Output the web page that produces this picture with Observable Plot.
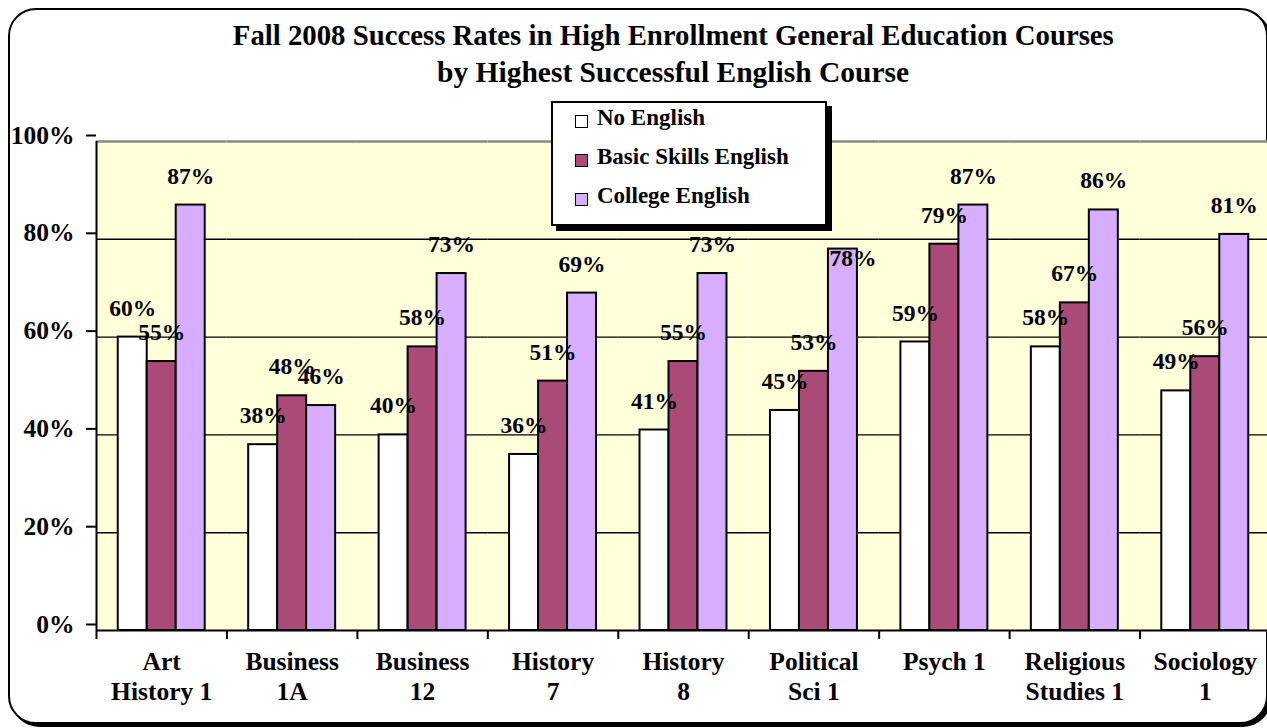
<!DOCTYPE html>
<html>
<head>
<meta charset="utf-8">
<script src="https://cdn.jsdelivr.net/npm/d3@7"></script>
<script src="https://cdn.jsdelivr.net/npm/@observablehq/plot@0.6"></script>
<style>
  html, body { margin: 0; padding: 0; background: #fff; }
  #page { position: relative; width: 1267px; height: 728px; overflow: hidden; font-family: "Liberation Serif", "Times New Roman", "DejaVu Serif", serif; }
  #frame { position: absolute; left: 8px; top: 8px; width: 1256px; height: 712px; border: 2px solid #000; border-radius: 28px; box-shadow: 3px 3px 0 #000; background: #fff; }
  #title { position: absolute; left: 0; width: 1346px; top: 16px; text-align: center; font-weight: bold; font-size: 30px; line-height: 37px; white-space: nowrap; }
  #title div { display: inline-block; transform-origin: center; }
  #chart { position: absolute; left: 0; top: 100px; width: 1300px; }
  #chart svg { max-width: none !important; }
  #legend { position: absolute; left: 551px; top: 101px; width: 272px; height: 121px; border: 2px solid #000; box-shadow: 5px 5px 0 #000; background: #fff; font-weight: bold; font-size: 23px; }
  .item { position: absolute; left: 22px; height: 24px; line-height: 24px; white-space: nowrap; }
  .sw { display: inline-block; width: 11px; height: 11px; border: 1.5px solid #000; margin-right: 9px; vertical-align: -3px; }
</style>
</head>
<body>
<div id="page">
  <div id="frame"></div>
  <div id="title"><div id="t1">Fall 2008 Success Rates in High Enrollment General Education Courses</div><br><div id="t2">by Highest Successful English Course</div></div>
  <div id="chart"></div>
  <div id="legend"></div>
</div>
<script>
const courses = ["Art History 1", "Business 1A", "Business 12", "History 7", "History 8", "Political Sci 1", "Psych 1", "Religious Studies 1", "Sociology 1"];
const courseLabels = ["Art\nHistory 1", "Business\n1A", "Business\n12", "History\n7", "History\n8", "Political\nSci 1", "Psych 1", "Religious\nStudies 1", "Sociology\n1"];
const series = ["No English", "Basic Skills English", "College English"];
const seriesColors = ["#FFFFFF", "#AA4A76", "#D6ADFF"];
const noEnglish = [60, 38, 40, 36, 41, 45, 59, 58, 49];
const basicSkills = [55, 48, 58, 51, 55, 53, 79, 67, 56];
const collegeEnglish = [87, 46, 73, 69, 73, 78, 87, 86, 81];
const yTicks = [0, 20, 40, 60, 80, 100];

const seriesValues = [noEnglish, basicSkills, collegeEnglish];
const data = [];
courses.forEach((c, i) => series.forEach((s, j) => data.push({course: c, series: s, value: seriesValues[j][i], ci: i})));

const serif = "'Liberation Serif', 'Times New Roman', 'DejaVu Serif', serif";

// Title width fit (condensed look)
const titleTargets = {t1: 881, t2: 472};
const cv = document.createElement("canvas").getContext("2d");
cv.font = "bold 30px " + serif;
for (const id in titleTargets) {
  const el = document.getElementById(id);
  const w = cv.measureText(el.textContent).width;
  el.style.transform = `scaleX(${titleTargets[id] / w})`;
}

const W = 1300, H = 620, ml = 96, mr = 30, mt = 41, mb = 90;
const po = 0.75;
const facetW = (W - ml - mr) / courses.length;
const step = facetW / (series.length + 2 * po);
const tickDx = -(po * step + step / 2);
const font = {fontFamily: serif, fontWeight: "bold"};

// labels that would sit under the legend box go just inside the bar top instead
const underLegend = d => d.ci >= 3 && d.ci <= 5 && d.value >= 75;

const chart = Plot.plot({
  width: W, height: H,
  marginLeft: ml, marginRight: mr, marginTop: mt, marginBottom: mb,
  style: {background: "transparent", fontFamily: serif, color: "#000"},
  fx: {domain: courses, padding: 0, round: false, label: null},
  x: {domain: series, paddingInner: 0, paddingOuter: po, round: false, axis: null},
  y: {domain: [0, 100], label: null},
  color: {domain: series, range: seriesColors},
  marks: [
    Plot.frame({fill: "#FFFFD9", stroke: null}),
    Plot.gridY([20, 40, 60, 80], {stroke: "#000", strokeOpacity: 1, strokeWidth: 1.4}),
    Plot.ruleY([100], {stroke: "#8a8a8a", strokeWidth: 2.5}),
    Plot.barY(data, {fx: "course", x: "series", y: "value", fill: "series", stroke: "#000", strokeWidth: 2}),
    Plot.ruleY([0], {stroke: "#000", strokeWidth: 2}),
    Plot.ruleX(courses, {fx: d => d, x: () => series[0], dx: tickDx, y1: 0, y2: 0, insetBottom: -9, stroke: "#000", strokeWidth: 2}),
    Plot.ruleX([courses[0]], {fx: d => d, x: () => series[0], dx: tickDx, y1: 0, y2: 100, stroke: "#000", strokeWidth: 2}),
    Plot.text(data.filter(d => !underLegend(d)), {fx: "course", x: "series", y: "value", text: d => d.value + "%", dy: -29, fontSize: 23.5, ...font}),
    Plot.text(data.filter(underLegend), {fx: "course", x: "series", y: "value", text: d => d.value + "%", dx: 10, dy: 9, fontSize: 23.5, ...font}),
    Plot.axisY(yTicks, {tickFormat: d => d + "%", tickSize: 10, tickPadding: 12, strokeWidth: 2, fontSize: 25.5, dy: -6, ...font}),
    Plot.axisFx({anchor: "bottom", tickSize: 0, tickPadding: 18, tickFormat: d => courseLabels[courses.indexOf(d)], fontSize: 25.5, lineHeight: 1.17, ...font})
  ]
});
document.getElementById("chart").appendChild(chart);

// Legend
const legend = document.getElementById("legend");
series.forEach((s, i) => {
  const it = document.createElement("div");
  it.className = "item";
  it.style.top = (3 + i * 39) + "px";
  it.innerHTML = `<span class="sw" style="background:${seriesColors[i]}"></span>${s}`;
  legend.appendChild(it);
});
</script>
</body>
</html>
